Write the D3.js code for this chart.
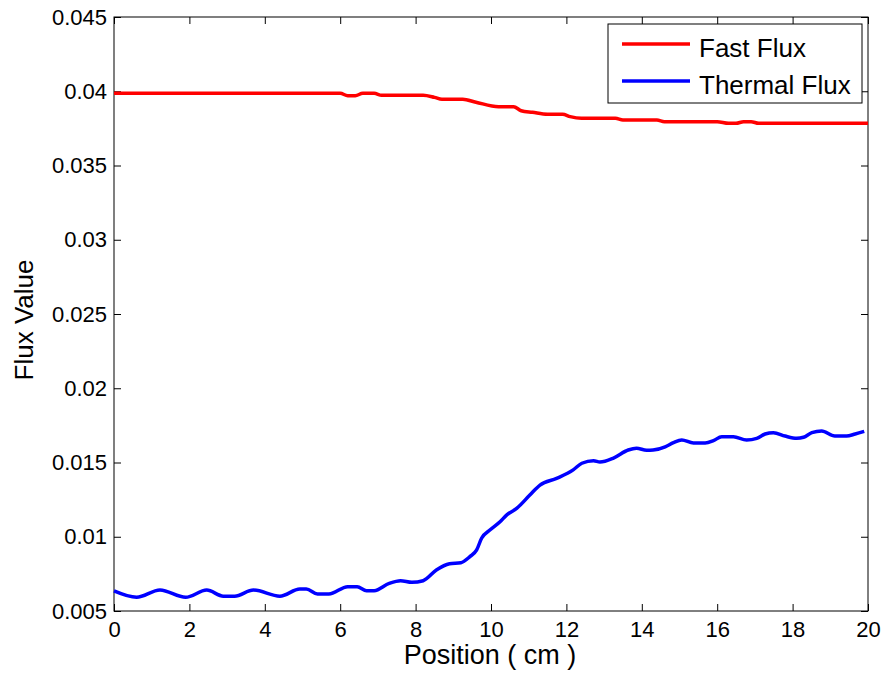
<!DOCTYPE html>
<html lang="en">
  <head>
    <meta charset="UTF-8" />
    <title>Flux Value vs Position</title>
    <script src="https://d3js.org/d3.v7.min.js"></script>
    <style>
      body {
        margin: 0;
        background: #fff;
      }
      text {
        font-family: "Liberation Sans", Arial, sans-serif;
        fill: #000;
      }
      .axis path,
      .axis line {
        stroke: #000;
      }
      .tick text {
        font-size: 22px;
      }
    </style>
  </head>
  <body>
    <svg id="canvas" width="884" height="679"></svg>

    <script>
      // x ticks and y ticks
      const xTicks = [0, 2, 4, 6, 8, 10, 12, 14, 16, 18, 20];
      const yTicks = [0.005, 0.01, 0.015, 0.02, 0.025, 0.03, 0.035, 0.04, 0.045];
      const yTickLabels = ["0.005", "0.01", "0.015", "0.02", "0.025", "0.03", "0.035", "0.04", "0.045"];

      // fast flux (position, value)
      const fastX = [0, 6.0, 6.2, 6.4, 6.6, 6.9, 7.1, 8.2, 8.5, 8.7, 9.25, 9.6, 10.2, 10.6, 10.8, 11.1, 11.5, 11.9, 12.1, 12.4, 13.3, 13.5, 14.4, 14.6, 16.0, 16.3, 16.5, 16.7, 16.9, 17.1, 20];
      const fastY = [0.03986, 0.03986, 0.0397, 0.0397, 0.03986, 0.03986, 0.03973, 0.03973, 0.03959, 0.03946, 0.03946, 0.03926, 0.03896, 0.03896, 0.03869, 0.03858, 0.03845, 0.03845, 0.03829, 0.03818, 0.03818, 0.03806, 0.03806, 0.03795, 0.03795, 0.03784, 0.03784, 0.03795, 0.03795, 0.03784, 0.03784];

      // thermal flux (position, value)
      const thermX = [0, 0.6, 1.22, 1.9, 2.46, 2.9, 3.2, 3.7, 4.4, 4.93, 5.1, 5.4, 5.7, 6.2, 6.45, 6.7, 6.9, 7.3, 7.6, 7.9, 8.2, 8.55, 8.9, 9.2, 9.44, 9.62, 9.75, 9.97, 10.24, 10.42, 10.68, 11.03, 11.3, 11.74, 12.18, 12.41, 12.72, 12.89, 13.25, 13.64, 13.86, 14.13, 14.3, 14.62, 14.84, 15.06, 15.37, 15.68, 15.9, 16.12, 16.43, 16.78, 17.05, 17.27, 17.49, 17.8, 18.11, 18.29, 18.51, 18.77, 19.12, 19.43, 19.66, 19.9];
      const thermY = [0.00635, 0.00592, 0.00641, 0.00592, 0.00641, 0.006, 0.006, 0.00641, 0.006, 0.00648, 0.00648, 0.00614, 0.00614, 0.00664, 0.00664, 0.00637, 0.00637, 0.00686, 0.00704, 0.00693, 0.00704, 0.00776, 0.00818, 0.00825, 0.00866, 0.00911, 0.0099, 0.01045, 0.01101, 0.01147, 0.01191, 0.01281, 0.01348, 0.01393, 0.0145, 0.01495, 0.01512, 0.01503, 0.0153, 0.01584, 0.01596, 0.01582, 0.01584, 0.01606, 0.01634, 0.01652, 0.01631, 0.01631, 0.01647, 0.01674, 0.01674, 0.01652, 0.01663, 0.01692, 0.01701, 0.01678, 0.01663, 0.0167, 0.01701, 0.01712, 0.01678, 0.01678, 0.01692, 0.0171];

      const series = [
        { name: "Fast Flux", color: "#ff0000", xs: fastX, ys: fastY },
        { name: "Thermal Flux", color: "#0000ff", xs: thermX, ys: thermY },
      ];

      const plotL = 114, plotR = 868, plotT = 17, plotB = 611;
      const tick = 7;

      const svg = d3.select("#canvas");

      const x = d3.scaleLinear().domain([0, 20]).range([plotL, plotR]);
      const y = d3.scaleLinear().domain([0.005, 0.045]).range([plotB, plotT]);

      // plot frame
      svg
        .append("rect")
        .attr("x", plotL)
        .attr("y", plotT)
        .attr("width", plotR - plotL)
        .attr("height", plotB - plotT)
        .attr("fill", "#fff")
        .attr("stroke", "#000")
        .attr("stroke-width", 1);

      // axes, ticks pointing inward on all sides
      svg
        .append("g")
        .attr("class", "axis")
        .attr("transform", `translate(0,${plotB})`)
        .call(d3.axisBottom(x).tickValues(xTicks).tickSizeInner(-tick).tickSizeOuter(0).tickPadding(10));

      svg
        .append("g")
        .attr("class", "axis")
        .attr("transform", `translate(${plotL},0)`)
        .call(
          d3
            .axisLeft(y)
            .tickValues(yTicks)
            .tickFormat((d, i) => yTickLabels[i])
            .tickSizeInner(-tick)
            .tickSizeOuter(0)
            .tickPadding(7)
        );

      svg
        .append("g")
        .attr("class", "axis")
        .attr("transform", `translate(0,${plotT})`)
        .call(d3.axisTop(x).tickValues(xTicks).tickSizeInner(-tick).tickSizeOuter(0).tickFormat(""));

      svg
        .append("g")
        .attr("class", "axis")
        .attr("transform", `translate(${plotR},0)`)
        .call(d3.axisRight(y).tickValues(yTicks).tickSizeInner(-tick).tickSizeOuter(0).tickFormat(""));

      svg.selectAll(".axis .domain").remove();

      // lines
      const line = d3
        .line()
        .x((d) => x(d[0]))
        .y((d) => y(d[1]))
        .curve(d3.curveMonotoneX);

      series.forEach((s) => {
        svg
          .append("path")
          .datum(s.xs.map((v, i) => [v, s.ys[i]]))
          .attr("d", line)
          .attr("fill", "none")
          .attr("stroke", s.color)
          .attr("stroke-width", 3.5);
      });

      // axis titles
      svg
        .append("text")
        .attr("x", 490)
        .attr("y", 664)
        .attr("text-anchor", "middle")
        .attr("font-size", 27)
        .text("Position ( cm )");

      svg
        .append("text")
        .attr("transform", `translate(33,320) rotate(-90)`)
        .attr("text-anchor", "middle")
        .attr("font-size", 26)
        .text("Flux Value");

      // legend
      const legend = svg.append("g");
      legend
        .append("rect")
        .attr("x", 608)
        .attr("y", 24)
        .attr("width", 254)
        .attr("height", 79)
        .attr("fill", "#fff")
        .attr("stroke", "#000");

      series.forEach((s, i) => {
        const ly = 44 + i * 37;
        legend
          .append("line")
          .attr("x1", 622)
          .attr("x2", 690)
          .attr("y1", ly)
          .attr("y2", ly)
          .attr("stroke", s.color)
          .attr("stroke-width", 3.5);
        legend
          .append("text")
          .attr("x", 699)
          .attr("y", ly + 12.5)
          .attr("font-size", 26)
          .text(s.name);
      });
    </script>
  </body>
</html>
